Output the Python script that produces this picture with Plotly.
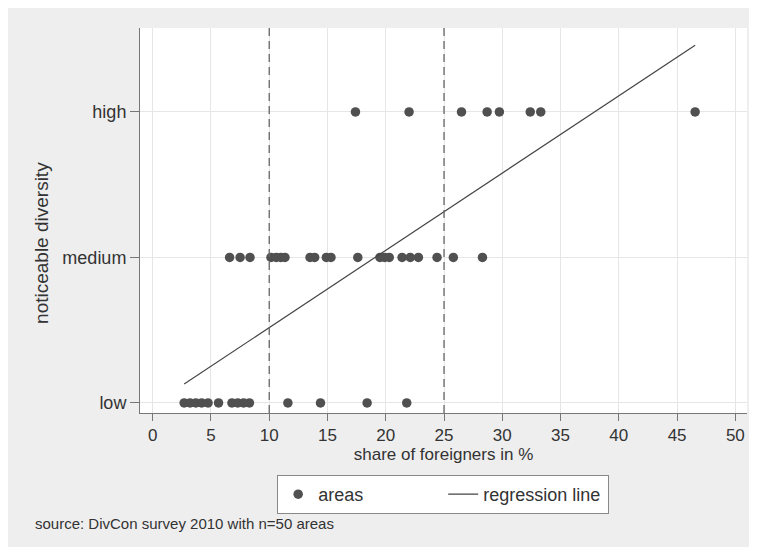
import plotly.graph_objects as go

# ---- data ----
levels = ["low", "medium", "high"]
level_values = [1, 2, 3]

low_share = [2.7, 3.2, 3.7, 4.2, 4.75, 5.65, 6.8, 7.3, 7.8, 8.3, 11.6, 14.4, 18.4, 21.8]
medium_share = [6.6, 7.5, 8.35, 10.15, 10.6, 11.0, 11.35, 13.5, 13.9, 14.9, 15.3,
                17.6, 19.5, 19.9, 20.3, 21.4, 22.1, 22.8, 24.4, 25.8, 28.3]
high_share = [17.4, 22.0, 26.5, 28.7, 29.75, 32.4, 33.3, 46.55]

reg_intercept = 0.987
reg_slope = 0.0531
threshold_lines = [10, 25]

x_ticks = [0, 5, 10, 15, 20, 25, 30, 35, 40, 45, 50]

FONT = "Liberation Sans, Arial, sans-serif"
TXT = "#333333"

xs = low_share + medium_share + high_share
ys = [1] * len(low_share) + [2] * len(medium_share) + [3] * len(high_share)

fig = go.Figure()
fig.add_trace(go.Scatter(
    x=xs, y=ys, mode="markers", name="areas",
    marker=dict(color="#505050", size=9.5, line=dict(width=0)),
))
xmin, xmax = min(xs), max(xs)
fig.add_trace(go.Scatter(
    x=[xmin, xmax], y=[reg_intercept + reg_slope * xmin, reg_intercept + reg_slope * xmax],
    mode="lines", name="regression line",
    line=dict(color="#444444", width=1.2),
))

shapes = []
for t in threshold_lines:
    shapes.append(dict(type="line", xref="x", yref="paper", x0=t, x1=t, y0=0, y1=1,
                       line=dict(color="#666666", width=1.3, dash="8px,5px")))

fig.update_layout(
    width=757, height=539,
    margin=dict(l=132, r=18, t=20, b=134),
    paper_bgcolor="#eeeeee",
    plot_bgcolor="white",
    font=dict(family=FONT, size=18, color=TXT),
    shapes=shapes,
    showlegend=True,
    legend=dict(
        orientation="h", x=0.226, xanchor="left", y=-0.161, yanchor="top",
        bgcolor="white", bordercolor="#888888", borderwidth=1,
        font=dict(family=FONT, size=18, color=TXT),
        entrywidth=120, entrywidthmode="pixels",
    ),
    annotations=[
        dict(text="source: DivCon survey 2010 with n=50 areas", xref="paper", yref="paper",
             x=-0.1763, y=-0.288, xanchor="left", yanchor="middle", showarrow=False,
             font=dict(family=FONT, size=15, color=TXT)),
        dict(text="noticeable diversity", xref="paper", yref="y",
             x=-0.1614, y=2.1, xanchor="center", yanchor="middle", textangle=-90,
             showarrow=False, font=dict(family=FONT, size=19, color=TXT)),
    ],
)

fig.update_xaxes(
    range=[-1.09, 51.0], tickvals=x_ticks, ticks="outside", ticklen=7,
    tickcolor="#777777", showline=True, linecolor="#777777", linewidth=1,
    showgrid=True, gridcolor="#e6e6e6", gridwidth=1, zeroline=False,
    tickfont=dict(size=17),
    title=dict(text="share of foreigners in %", standoff=0, font=dict(size=17)),
)
fig.update_yaxes(
    range=[0.931, 3.577], tickvals=level_values, ticktext=levels, ticks="outside",
    ticklen=9, tickcolor="#777777", showline=True, linecolor="#777777", linewidth=1,
    showgrid=True, gridcolor="#e6e6e6", gridwidth=1, zeroline=False,
)

fig.write_html("out.html")
